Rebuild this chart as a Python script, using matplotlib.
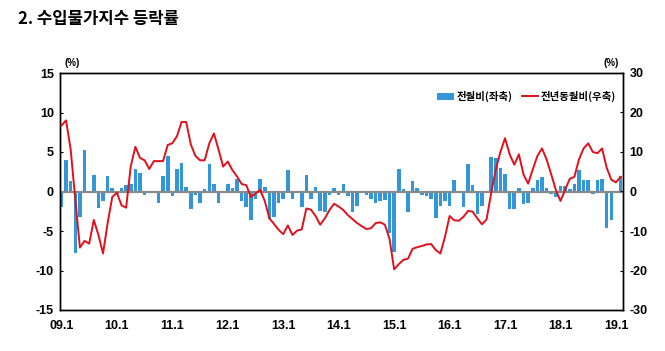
import numpy as np
import matplotlib
matplotlib.use('Agg')
import matplotlib.pyplot as plt
from matplotlib.lines import Line2D
from matplotlib.patches import Patch

plt.rcParams['font.family'] = ['Liberation Sans Narrow', 'Liberation Sans', 'Noto Sans CJK KR', 'DejaVu Sans']
plt.rcParams['axes.unicode_minus'] = False

# 전월비 (%, left axis), 2009.01 ~ 2019.02
mom = [-1.9, 4.0, 1.3, -7.8, -3.2, 5.2, -0.2, 2.1, -2.1, -1.2, 1.9, 0.4,
       -0.3, 0.4, 0.8, 0.9, 2.8, 2.3, -0.4, -0.2, -0.2, -1.4, 1.9, 4.5,
       -0.6, 2.8, 3.6, 0.6, -2.2, -0.5, -1.4, 0.3, 3.5, 0.9, -1.5, 0.0,
       0.9, 0.4, 1.6, -1.2, -2.0, -3.6, -0.9, 1.6, 0.6, -3.5, -3.2, -1.4,
       -0.9, 2.7, -0.9, -0.1, -2.0, 2.1, -0.9, 0.6, -2.5, -2.6, -0.5, 0.4,
       -0.4, 0.9, -0.6, -2.6, -1.8, -0.2, -0.5, -0.9, -1.4, -1.2, -1.1, -5.3,
       -7.7, 2.8, 0.3, -2.6, 1.3, 0.5, -0.5, -0.6, -0.9, -3.3, -1.8, -1.2,
       -1.8, 1.5, -0.1, -2.0, 3.5, 0.8, -2.9, -1.8, 0.1, 4.4, 4.2, 3.0,
       2.2, -2.2, -2.2, 0.4, -1.6, -1.4, 0.4, 1.5, 1.8, 0.5, -0.3, -0.7,
       0.65, 0.65, 0.35, 0.9, 2.7, 1.4, 1.4, -0.3, 1.4, 1.6, -4.6, -3.6,
       -0.1, 1.9]

# 전년동월비 (%, right axis)
yoy = [16.7, 18.0, 10.6, -2.0, -14.2, -12.5, -13.2, -7.2, -11.0, -15.7, -8.0, -1.4,
       -0.3, -3.5, -4.1, 6.4, 11.3, 8.5, 7.9, 5.7, 7.7, 7.7, 7.7, 11.8,
       12.2, 14.0, 17.6, 17.6, 11.9, 9.0, 7.9, 7.9, 12.2, 14.7, 10.6, 6.3,
       7.6, 5.4, 3.8, 1.9, 1.6, -1.4, -0.5, 0.4, -2.4, -6.8, -8.2, -9.7,
       -10.8, -8.6, -11.0, -9.9, -9.6, -4.3, -4.6, -6.2, -8.4, -6.8, -4.7, -3.1,
       -3.8, -4.7, -6.0, -7.0, -8.0, -8.8, -9.5, -9.3, -8.0, -7.8, -8.4, -12.0,
       -19.7, -18.4, -17.3, -17.0, -14.5, -14.1, -13.8, -13.4, -13.3, -14.8, -15.7, -11.5,
       -6.2, -7.3, -7.4, -6.4, -4.9, -5.1, -6.8, -8.3, -7.1, -0.4, 5.6, 10.0,
       13.5, 9.4, 6.8, 9.4, 4.3, 2.0, 5.6, 9.0, 10.9, 8.1, 4.3, 0.4,
       -2.4, 0.4, 3.2, 3.7, 8.1, 10.9, 12.2, 10.0, 9.7, 10.9, 6.0, 3.0,
       2.3, 3.7]

tick_labels = ['09.1', '10.1', '11.1', '12.1', '13.1', '14.1',
               '15.1', '16.1', '17.1', '18.1', '19.1']

months = np.arange(len(mom))

W, H = 665, 351
fig = plt.figure(figsize=(W / 100, H / 100), dpi=100)
ax = fig.add_axes([59.5 / W, 41 / H, 563 / W, 237 / H])

ax.bar(months, mom, width=0.78, color='#3296d8', zorder=2)
ax.axhline(0, color='#8a8a8a', lw=1.6, zorder=3)
ax.set_xlim(-0.42, 121.42)
ax.set_ylim(-15, 15)
ax.set_yticks(range(-15, 16, 5))
ax.set_xticks(months[::12])
ax.set_xticklabels(tick_labels)

ax2 = ax.twinx()
ax2.plot(months, yoy, color='#e0101c', lw=1.4, zorder=4)
ax2.set_ylim(-30, 30)
ax2.set_yticks(range(-30, 31, 10))

tick_font = dict(fontsize=9, fontweight='bold')
ax.tick_params(axis='x', length=0, pad=7, labelsize=9)
ax.tick_params(axis='y', direction='in', length=2.5, pad=4, labelsize=9)
ax2.tick_params(axis='y', direction='in', length=2.5, pad=5, labelsize=9)
for lbl in ax.get_xticklabels() + ax.get_yticklabels() + ax2.get_yticklabels():
    lbl.set_fontweight('bold')

for a in (ax, ax2):
    for s in a.spines.values():
        s.set_linewidth(1.0)
        s.set_color('black')

kr = ['Noto Sans CJK KR', 'DejaVu Sans']
fig.text(72 / W, 1 - 63 / H, '(%)', fontsize=7, ha='center', va='center', fontweight='bold')
fig.text(611 / W, 1 - 63 / H, '(%)', fontsize=7, ha='center', va='center', fontweight='bold')

fig.text(18 / W, 1 - 19 / H, '2. 수입물가지수 등락률', fontsize=12, fontweight='bold',
         family=kr, ha='left', va='center')

handles = [Patch(facecolor='#3296d8', edgecolor='none'),
           Line2D([0], [0], color='#e0101c', lw=1.4)]
leg = ax.legend(handles, ['전월비(좌축)', '전년동월비(우축)'], ncol=2, frameon=False,
                loc='center right', bbox_to_anchor=(0.995, 0.9),
                prop={'family': kr, 'size': 7.5, 'weight': 'bold'},
                handlelength=1.6, handleheight=0.7, handletextpad=0.2,
                columnspacing=0.9, borderaxespad=0)
leg.set_zorder(10)

fig.savefig('out.png', dpi=100)
